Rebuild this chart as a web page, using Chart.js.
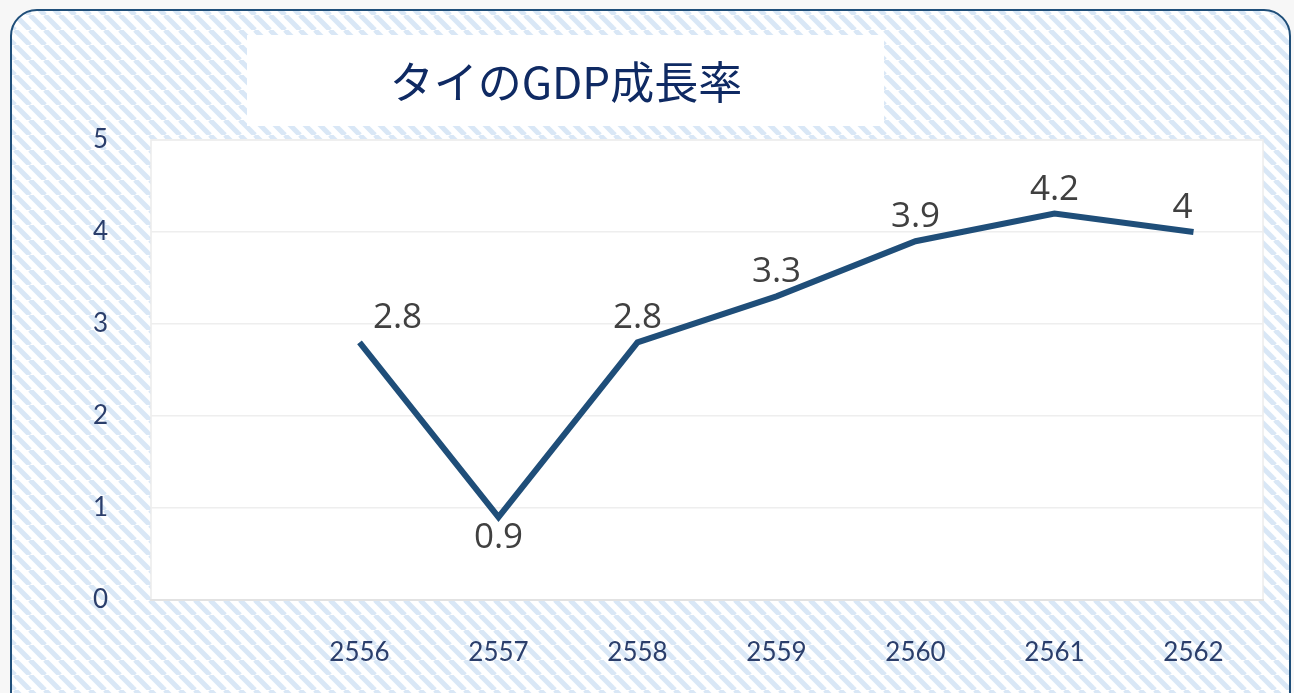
<!DOCTYPE html>
<html>
<head>
<meta charset="utf-8">
<script src="https://cdn.jsdelivr.net/npm/chart.js@4"></script>
<style>
  html, body { margin: 0; padding: 0; background: #f7f7f7; }
  canvas { display: block; }
</style>
</head>
<body>
<canvas id="myChart" width="1294" height="693"></canvas>
<script>
// chart data
const title = 'タイのGDP成長率';
const years = ['', '2556', '2557', '2558', '2559', '2560', '2561', '2562'];
const growth = [null, 2.8, 0.9, 2.8, 3.3, 3.9, 4.2, 4.0];
const yTicks = [0, 1, 2, 3, 4, 5];

const navy = '#1f4e79';
const axisText = '#2b3e6b';

// diagonal stripe pattern for the frame background
function makeStripes() {
  const p = 15;
  const tile = document.createElement('canvas');
  tile.width = p;
  tile.height = p;
  const t = tile.getContext('2d');
  t.fillStyle = '#ffffff';
  t.fillRect(0, 0, p, p);
  t.strokeStyle = '#d9e7f6';
  t.lineWidth = 5;
  for (const k of [-p, 0, p]) {
    t.beginPath();
    t.moveTo(k, 0);
    t.lineTo(k + p, p);
    t.stroke();
  }
  return tile;
}

const frameBackground = {
  id: 'frameBackground',
  beforeDraw(chart) {
    const { ctx, chartArea } = chart;
    ctx.save();
    ctx.fillStyle = '#f7f7f7';
    ctx.fillRect(0, 0, chart.width, chart.height);

    ctx.beginPath();
    ctx.roundRect(11, 10, 1279, 720, 26);
    ctx.fillStyle = ctx.createPattern(makeStripes(), 'repeat');
    ctx.fill();
    ctx.lineWidth = 2;
    ctx.strokeStyle = navy;
    ctx.stroke();

    // title box
    ctx.fillStyle = '#ffffff';
    ctx.fillRect(247, 35, 637, 91);
    ctx.fillStyle = '#0f2a63';
    ctx.font = '400 44px "Noto Sans CJK JP"';
    ctx.textAlign = 'center';
    ctx.textBaseline = 'middle';
    ctx.fillText(title, 566, 82);

    // plot area
    ctx.fillStyle = '#ffffff';
    ctx.fillRect(chartArea.left, chartArea.top, chartArea.width, chartArea.height);
    ctx.strokeStyle = '#ececec';
    ctx.lineWidth = 1.5;
    ctx.strokeRect(chartArea.left, chartArea.top, chartArea.width, chartArea.height);
    ctx.restore();
  },
};

// value labels, Excel style
const valueLabels = {
  id: 'valueLabels',
  afterDatasetsDraw(chart) {
    const { ctx } = chart;
    const meta = chart.getDatasetMeta(0);
    const values = chart.data.datasets[0].data;
    const first = values.findIndex((v) => v !== null);
    const last = values.length - 1;
    ctx.save();
    ctx.font = '35px "Open Sans"';
    ctx.fillStyle = '#404040';
    ctx.textAlign = 'center';
    ctx.textBaseline = 'middle';
    meta.data.forEach((pt, i) => {
      const v = values[i];
      if (v === null) return;
      let dx = 0;
      let dy = -24;
      const prev = values[i - 1];
      const next = values[i + 1];
      if (prev != null && next != null && v < prev && v < next) dy = 21;
      if (i === first) dx = 38;
      if (i === last) dx = -11;
      ctx.fillText(String(v), pt.x + dx, pt.y + dy);
    });
    ctx.restore();
  },
};

const chartContext = document.getElementById('myChart').getContext('2d');

const chart = new Chart(chartContext, {
  type: 'line',
  data: {
    labels: years,
    datasets: [{
      data: growth,
      borderColor: navy,
      borderWidth: 6,
      pointRadius: 0,
      tension: 0,
      spanGaps: false,
    }],
  },
  options: {
    responsive: false,
    animation: false,
    layout: { padding: { top: 140, right: 31, left: 0, bottom: 0 } },
    plugins: {
      legend: { display: false },
      tooltip: { enabled: false },
    },
    scales: {
      x: {
        offset: true,
        grid: { display: false, drawTicks: false },
        border: { color: '#e2e2e2', width: 2 },
        ticks: {
          color: axisText,
          font: { family: 'Lato', size: 26 },
          padding: 37,
          maxRotation: 0,
          autoSkip: false,
        },
        afterFit: (scale) => { scale.height = 93; },
      },
      y: {
        min: yTicks[0],
        max: yTicks[yTicks.length - 1],
        afterBuildTicks: (scale) => { scale.ticks = yTicks.map((v) => ({ value: v })); },
        grid: { color: '#eeeeee', lineWidth: 1.5, drawTicks: false },
        border: { display: false },
        ticks: {
          color: axisText,
          font: { family: 'Lato', size: 26 },
          padding: 43,
        },
        afterFit: (scale) => { scale.width = 151; },
      },
    },
  },
  plugins: [frameBackground, valueLabels],
});
</script>
</body>
</html>
